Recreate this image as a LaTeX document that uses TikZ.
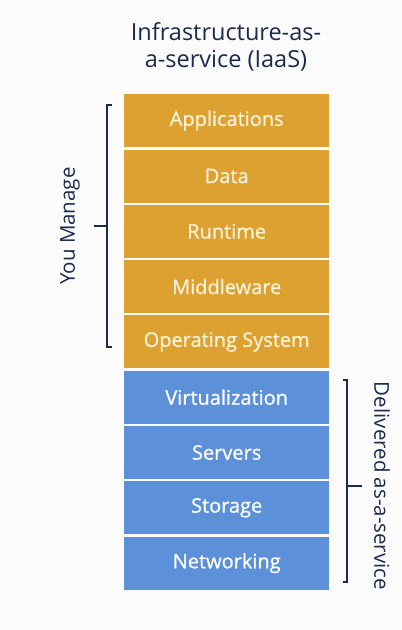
\documentclass[tikz,border=0pt]{standalone}
\usepackage{fontspec}
\setmainfont{Open Sans}
\newfontfamily\boxfont{Open Sans}[FakeBold=0.8]
\definecolor{bgc}{HTML}{FBFBFB}
\definecolor{orng}{HTML}{DDA132}
\definecolor{blu}{HTML}{5C90D8}
\definecolor{navy}{HTML}{1B2A4E}
\definecolor{boxtxt}{HTML}{FBF3D8}
\begin{document}
\begin{tikzpicture}[x=1pt,y=-1pt,
  layer/.style={minimum width=205pt,minimum height=53pt,inner sep=0pt,anchor=north west,font=\boxfont\fontsize{20}{24}\selectfont},
  orlayer/.style={layer,fill=orng,text=boxtxt},
  bllayer/.style={layer,fill=blu,text=white},
  brace/.style={draw=navy,line width=1.3pt},
  lbl/.style={text=navy,font=\fontsize{20.5}{24}\selectfont}]
\fill[bgc] (0,0) rectangle (402,630);
\useasboundingbox (0,0) rectangle (402,630);
\node[text=navy,font=\fontsize{23.5}{27}\selectfont,align=center] (title) at (226,47) {Infrastructure-as-\\a-service (IaaS)};
\node[orlayer] (app) at (124,94) {Applications};
\node[orlayer] (data) at (124,149.3) {Data};
\node[orlayer] (run) at (124,204.6) {Runtime};
\node[orlayer] (mid) at (124,259.9) {Middleware};
\node[orlayer] (os) at (124,315.2) {Operating System};
\node[bllayer] (virt) at (124,370.5) {Virtualization};
\node[bllayer] (serv) at (124,425.8) {Servers};
\node[bllayer] (stor) at (124,481.1) {Storage};
\node[bllayer] (net) at (124,536.4) {Networking};
% left brace
\coordinate (lt) at (112,105);
\coordinate (lb) at (112,347);
\coordinate (lm) at (107,226);
\coordinate (lmt) at (94,226);
\draw[brace] (lt) -- (107,105) -- (107,347) -- (lb);
\draw[brace] (lm) -- (lmt);
\node[lbl,rotate=90] (you) at (70,226) {You Manage};
% right brace
\coordinate (rt) at (343,380);
\coordinate (rb) at (343,582);
\coordinate (rm) at (347,486);
\coordinate (rmt) at (362,486);
\draw[brace] (rt) -- (347,380) -- (347,582) -- (rb);
\draw[brace] (rm) -- (rmt);
\node[lbl,rotate=-90] (deliv) at (382,486) {Delivered as-a-service};
\end{tikzpicture}
\end{document}
